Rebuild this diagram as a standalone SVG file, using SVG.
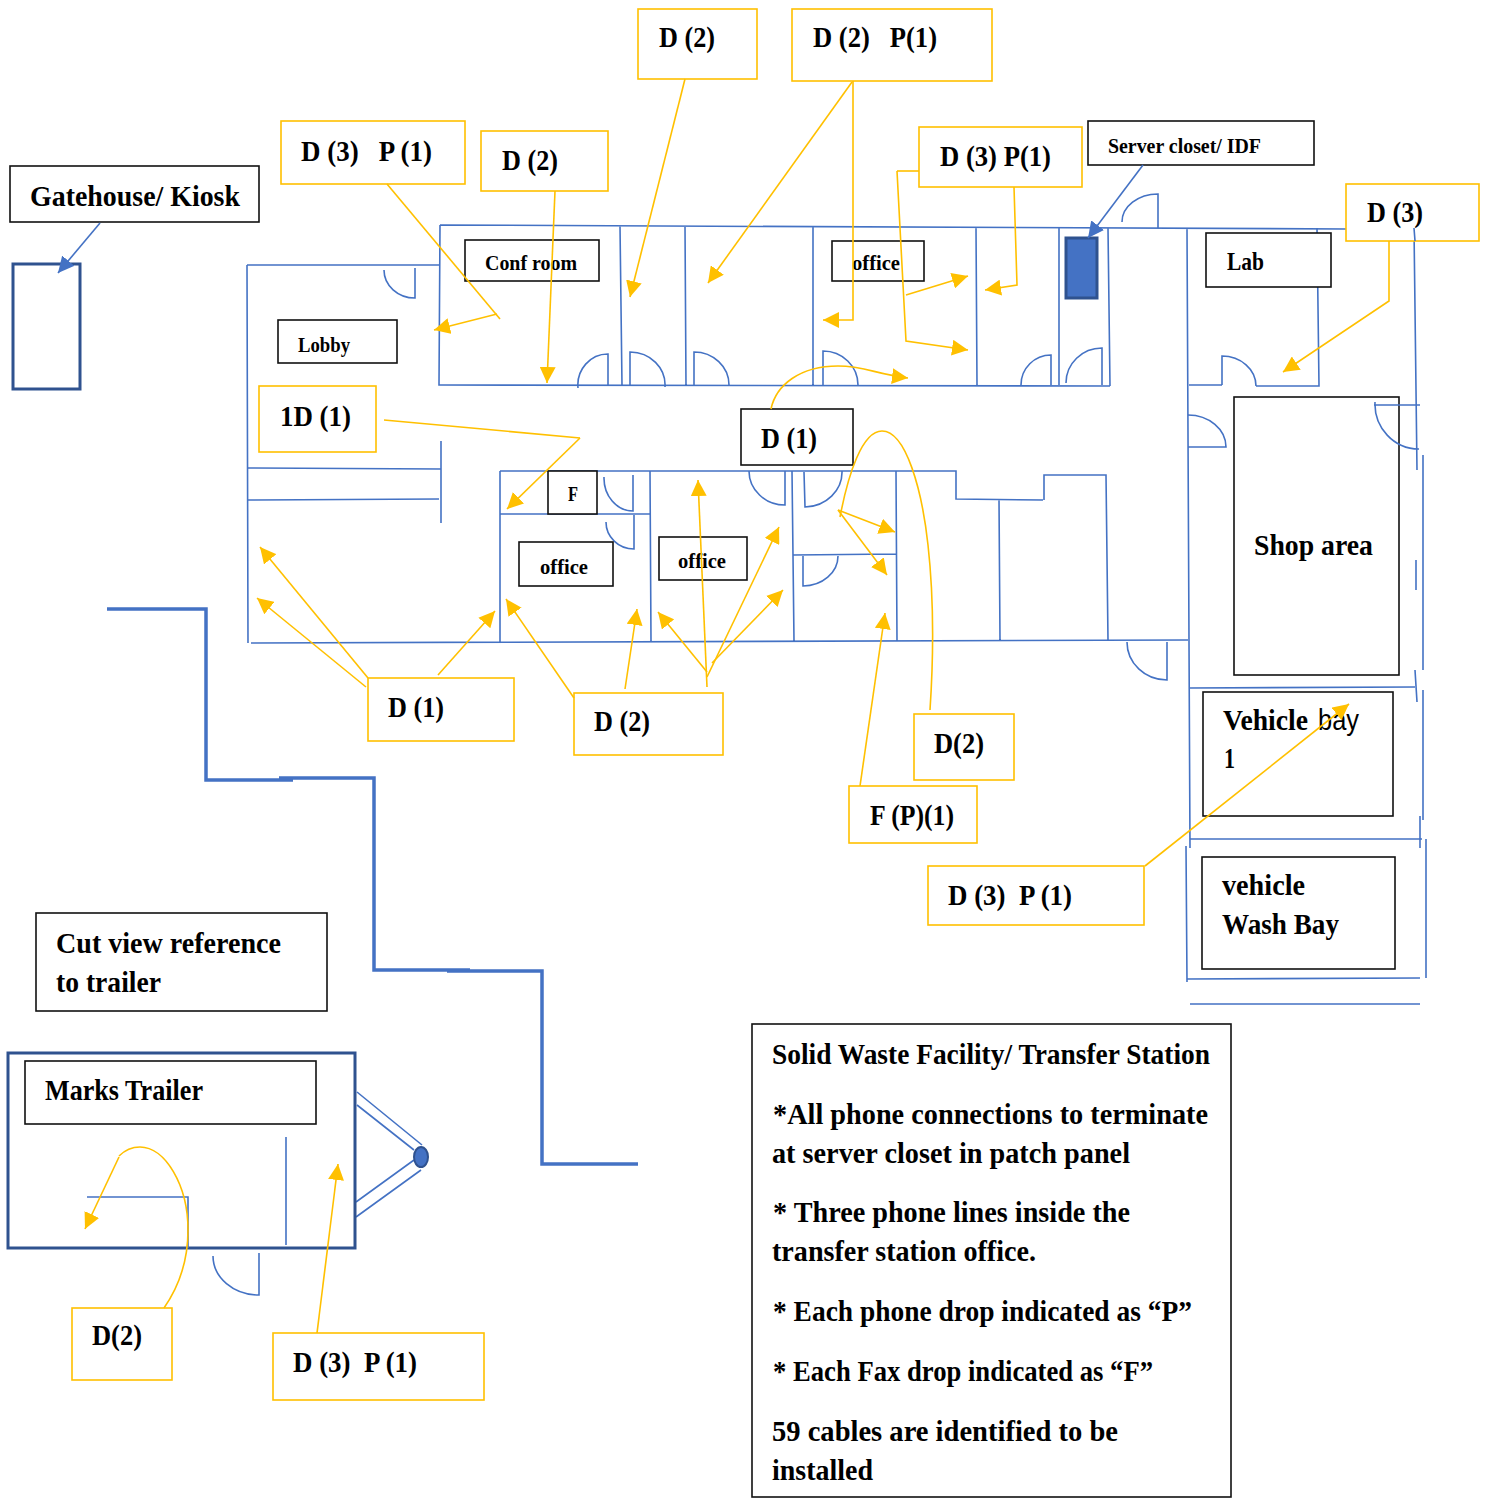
<svg xmlns="http://www.w3.org/2000/svg" width="1486" height="1501" viewBox="0 0 1486 1501">
<style>
text{font-family:"Liberation Serif","Times New Roman",serif;font-weight:700;fill:#000;white-space:pre}
.s30{font-size:30px}.s29{font-size:29px}.s22{font-size:22px}.s26{font-size:26px}
.y{fill:#fff;stroke:#ffc000;stroke-width:1.6}
.k{fill:#fff;stroke:#111;stroke-width:1.6}
.w{fill:none;stroke:#4472c4;stroke-width:1.6}
.c{fill:none;stroke:#ffc000;stroke-width:1.6}
.ca{fill:none;stroke:#ffc000;stroke-width:1.6;marker-end:url(#ya)}
.b{fill:none;stroke:#4472c4;stroke-width:1.6;marker-end:url(#ba)}
.h{fill:none;stroke:#4472c4;stroke-width:3.5}
.solid{fill:#4472c4;stroke:#2f528f;stroke-width:3}
.open{fill:#fff;stroke:#2f528f;stroke-width:3}
</style>
<defs>
<marker id="ya" markerUnits="userSpaceOnUse" markerWidth="18" markerHeight="16" refX="16" refY="8" orient="auto"><path d="M0,0L16,8L0,16Z" fill="#ffc000"/></marker>
<marker id="ba" markerUnits="userSpaceOnUse" markerWidth="18" markerHeight="16" refX="16" refY="8" orient="auto"><path d="M0,0L16,8L0,16Z" fill="#4472c4"/></marker>
</defs>

<g id="walls">
<path class="w" d="M440,225L1346,229M1414,228L1417,470M440,225L439,385L1110,386M247,265H440M247,265L248,643M620,226L622,385M685,226L686,385M813,227V385M976,227L977,385M1059,228V385M1108,228L1110,386M1187,228L1190,848"/>
<path class="w" d="M1317,228L1319,386H1256M1222,385H1189M1222,385V356A34,30 0 0 1 1256,386"/>
<path class="w" d="M415,268V298A31,28 0 0 1 384,270M608,385V354A30,31 0 0 0 578,388M630,385V352A35,33 0 0 1 665,387M694,385V352A35,33 0 0 1 729,385M823,385V351A35,34 0 0 1 858,385M1051,385V355A30,30 0 0 0 1021,385M1102,385V348A36,35 0 0 0 1066,383M1158,228V194A36,28 0 0 0 1122,222"/>
<path class="w" d="M1188,415A38,32 0 0 1 1226,447H1188"/>
<path class="w" d="M247,468L441,469M441,441V523M248,500L439,499M251,643L1188,640M500,471V643M500,471H956V499L1043,500M1044,500V475H1106L1108,640M500,514H650M650,471L651,642M999,499L1000,640M792,471L794,641M896,471L897,641M793,555L896,554"/>
<path class="w" d="M633,475V511A29,33 0 0 1 604,477M634,515V549A28,27 0 0 1 606,522M785,471V505A36,34 0 0 1 749,471M804,472L805,507A38,35 0 0 0 842,471M803,556V586A35,30 0 0 0 838,556M1167,642V680A40,38 0 0 1 1127,642"/>
<path class="w" d="M1423,455V670M1416,560V590M1415,670L1417,702M1423,690V820M1189,688L1415,687M1420,816V848M1190,839H1422M1186,846L1187,982M1426,839V978M1187,979L1420,978M1190,1004H1420"/>
<path class="h" d="M107,609H206V780H293M279,778H374V970H470M447,971H542V1164H638"/>
<path class="w" d="M357,1092L422,1145M357,1105L414,1150M356,1202L414,1160M356,1217L421,1170"/>
</g>

<g id="gatehouse"><rect class="k" x="10" y="166" width="249" height="56"/><text class="s30" x="30" y="206" textLength="210" lengthAdjust="spacingAndGlyphs">Gatehouse/ Kiosk</text></g>
<g id="kiosk"><rect class="open" x="13" y="264" width="67" height="125"/></g>
<g id="lobby"><rect class="k" x="278" y="320" width="119" height="43"/><text class="s22" x="298" y="352" textLength="52" lengthAdjust="spacingAndGlyphs">Lobby</text></g>
<g id="conf-room"><rect class="k" x="465" y="240" width="134" height="41"/><text class="s22" x="485" y="270" textLength="92" lengthAdjust="spacingAndGlyphs">Conf room</text></g>
<g id="office-north"><rect class="k" x="832" y="241" width="92" height="40"/><text class="s22" x="852" y="270" textLength="48" lengthAdjust="spacingAndGlyphs">office</text></g>
<g id="server-closet"><rect class="k" x="1088" y="121" width="226" height="44"/><text class="s22" x="1108" y="153" textLength="153" lengthAdjust="spacingAndGlyphs">Server closet/ IDF</text></g>
<g id="server-rack"><rect class="solid" x="1066" y="238" width="31" height="60"/></g>
<g id="lab"><rect class="k" x="1206" y="233" width="125" height="54"/><text class="s26" x="1227" y="270" textLength="37" lengthAdjust="spacingAndGlyphs">Lab</text></g>
<g id="shop-area"><rect class="k" x="1234" y="397" width="165" height="278"/><text class="s29" x="1254" y="555" textLength="119" lengthAdjust="spacingAndGlyphs">Shop area</text></g>
<g id="vehicle-bay"><rect class="k" x="1203" y="692" width="190" height="124"/><text class="s29" x="1223" y="730" textLength="85" lengthAdjust="spacingAndGlyphs">Vehicle</text><text class="s29" x="1318" y="730" textLength="41" lengthAdjust="spacingAndGlyphs" style="font-weight:400;font-family:'Liberation Sans',sans-serif">bay</text><text class="s29" x="1224" y="768" textLength="11" lengthAdjust="spacingAndGlyphs">1</text></g>
<g id="wash-bay"><rect class="k" x="1202" y="857" width="193" height="112"/><text class="s29" x="1222" y="895" textLength="83" lengthAdjust="spacingAndGlyphs">vehicle</text><text class="s29" x="1222" y="934" textLength="117" lengthAdjust="spacingAndGlyphs">Wash Bay</text></g>
<g id="f-room"><rect class="k" x="548" y="471" width="49" height="43"/><text class="s22" x="568" y="501" textLength="10" lengthAdjust="spacingAndGlyphs">F</text></g>
<g id="office-south-a"><rect class="k" x="519" y="542" width="94" height="44"/><text class="s22" x="540" y="574" textLength="48" lengthAdjust="spacingAndGlyphs">office</text></g>
<g id="office-south-b"><rect class="k" x="659" y="537" width="88" height="43"/><text class="s22" x="678" y="568" textLength="48" lengthAdjust="spacingAndGlyphs">office</text></g>
<g id="d1-black"><rect class="k" x="741" y="409" width="112" height="56"/><text class="s30" x="761" y="448" textLength="56" lengthAdjust="spacingAndGlyphs">D (1)</text></g>

<g id="drop-a"><rect class="y" x="281" y="121" width="184" height="63"/><text class="s30" x="301" y="161" textLength="131" lengthAdjust="spacingAndGlyphs">D (3)   P (1)</text></g>
<g id="drop-b"><rect class="y" x="481" y="131" width="127" height="60"/><text class="s30" x="502" y="170" textLength="56" lengthAdjust="spacingAndGlyphs">D (2)</text></g>
<g id="drop-c"><rect class="y" x="638" y="9" width="119" height="70"/><text class="s30" x="659" y="47" textLength="56" lengthAdjust="spacingAndGlyphs">D (2)</text></g>
<g id="drop-d"><rect class="y" x="792" y="9" width="200" height="72"/><text class="s30" x="813" y="47" textLength="124" lengthAdjust="spacingAndGlyphs">D (2)   P(1)</text></g>
<g id="drop-e"><rect class="y" x="919" y="127" width="163" height="60"/><text class="s30" x="940" y="166" textLength="111" lengthAdjust="spacingAndGlyphs">D (3) P(1)</text></g>
<g id="drop-f"><rect class="y" x="1346" y="184" width="133" height="57"/><text class="s30" x="1367" y="222" textLength="56" lengthAdjust="spacingAndGlyphs">D (3)</text></g>
<g id="drop-g"><rect class="y" x="259" y="386" width="117" height="66"/><text class="s30" x="280" y="426" textLength="71" lengthAdjust="spacingAndGlyphs">1D (1)</text></g>
<g id="drop-h"><rect class="y" x="368" y="678" width="146" height="63"/><text class="s30" x="388" y="717" textLength="56" lengthAdjust="spacingAndGlyphs">D (1)</text></g>
<g id="drop-i"><rect class="y" x="574" y="693" width="149" height="62"/><text class="s30" x="594" y="731" textLength="56" lengthAdjust="spacingAndGlyphs">D (2)</text></g>
<g id="drop-j"><rect class="y" x="914" y="714" width="100" height="66"/><text class="s30" x="934" y="753" textLength="50" lengthAdjust="spacingAndGlyphs">D(2)</text></g>
<g id="drop-k"><rect class="y" x="849" y="786" width="128" height="57"/><text class="s30" x="870" y="825" textLength="84" lengthAdjust="spacingAndGlyphs">F (P)(1)</text></g>
<g id="drop-l"><rect class="y" x="928" y="866" width="216" height="59"/><text class="s30" x="948" y="905" textLength="124" lengthAdjust="spacingAndGlyphs">D (3)  P (1)</text></g>

<g id="cut-view"><rect class="k" x="36" y="913" width="291" height="98"/><text class="s29" x="56" y="953" textLength="225" lengthAdjust="spacingAndGlyphs">Cut view reference</text><text class="s29" x="56" y="992" textLength="105" lengthAdjust="spacingAndGlyphs">to trailer</text></g>
<g id="trailer"><rect x="8" y="1053" width="347" height="195" fill="none" stroke="#2f528f" stroke-width="3"/></g>
<g id="marks-trailer"><rect class="k" x="25" y="1061" width="291" height="63"/><text class="s30" x="45" y="1100" textLength="158" lengthAdjust="spacingAndGlyphs">Marks Trailer</text></g>
<g id="trailer-interior"><path class="w" d="M286,1137V1245M87,1197H188V1248M259,1253V1295A46,39 0 0 1 213,1256"/></g>
<g id="trailer-hitch"><ellipse cx="421" cy="1157" rx="7" ry="10" fill="#4472c4" stroke="#2f528f" stroke-width="2"/></g>
<g id="drop-m"><rect class="y" x="72" y="1308" width="100" height="72"/><text class="s30" x="92" y="1345" textLength="50" lengthAdjust="spacingAndGlyphs">D(2)</text></g>
<g id="drop-n"><rect class="y" x="273" y="1333" width="211" height="67"/><text class="s30" x="293" y="1372" textLength="124" lengthAdjust="spacingAndGlyphs">D (3)  P (1)</text></g>

<g id="legend"><rect class="k" x="752" y="1024" width="479" height="473"/>
<text class="s29" x="772" y="1064" textLength="438" lengthAdjust="spacingAndGlyphs">Solid Waste Facility/ Transfer Station</text>
<text class="s29" x="773" y="1124" textLength="435" lengthAdjust="spacingAndGlyphs">*All phone connections to terminate</text>
<text class="s29" x="772" y="1163" textLength="358" lengthAdjust="spacingAndGlyphs">at server closet in patch panel</text>
<text class="s29" x="773" y="1222" textLength="357" lengthAdjust="spacingAndGlyphs">* Three phone lines inside the</text>
<text class="s29" x="772" y="1261" textLength="264" lengthAdjust="spacingAndGlyphs">transfer station office.</text>
<text class="s29" x="773" y="1321" textLength="419" lengthAdjust="spacingAndGlyphs">* Each phone drop indicated as “P”</text>
<text class="s29" x="773" y="1381" textLength="380" lengthAdjust="spacingAndGlyphs">* Each Fax drop indicated as “F”</text>
<text class="s29" x="772" y="1441" textLength="346" lengthAdjust="spacingAndGlyphs">59 cables are identified to be</text>
<text class="s29" x="772" y="1480" textLength="101" lengthAdjust="spacingAndGlyphs">installed</text>
</g>

<g id="walls-over"><path class="w" d="M1414,228L1415,241M1374,405H1420M1375,402A44,45 0 0 0 1419,449"/></g>

<g id="connectors">
<path class="b" d="M100,223L58,273"/>
<path class="b" d="M1143,165L1088,238"/>
<path class="c" d="M387,184L500,319"/>
<path class="ca" d="M497,314L434,330"/>
<path class="ca" d="M555,191L547,383"/>
<path class="ca" d="M685,79L630,297"/>
<path class="ca" d="M852,82L708,283"/>
<path class="ca" d="M853,81V320H823"/>
<path class="c" d="M919,171H897"/>
<path class="ca" d="M897,171L906,341L968,350"/>
<path class="ca" d="M906,295L968,276"/>
<path class="ca" d="M1014,187L1017,285L985,290"/>
<path class="ca" d="M1389,241V301L1283,372"/>
<path class="ca" d="M771,409C776,385 800,366 838,366C865,366 875,374 908,378"/>
<path class="c" d="M930,710C934,650 933,590 928,545C922,490 906,431 882,431C862,431 848,475 840,517"/>
<path class="ca" d="M838,510L895,532"/>
<path class="ca" d="M838,510L887,575"/>
<path class="c" d="M384,420L580,438"/>
<path class="ca" d="M580,438L507,509"/>
<path class="ca" d="M368,678L260,547"/>
<path class="ca" d="M366,687L257,598"/>
<path class="ca" d="M438,675L495,611"/>
<path class="ca" d="M574,698L506,599"/>
<path class="ca" d="M625,689L637,609"/>
<path class="ca" d="M707,672L658,612"/>
<path class="ca" d="M707,687L698,480"/>
<path class="ca" d="M707,677L779,527"/>
<path class="ca" d="M712,663L783,590"/>
<path class="ca" d="M860,786L885,613"/>
<path class="ca" d="M1145,866L1349,704"/>
<path class="c" d="M164,1308C180,1285 188,1260 188,1230C188,1185 165,1147 140,1147C132,1147 125,1150 119,1156"/>
<path class="ca" d="M119,1157L85,1229"/>
<path class="ca" d="M317,1333L338,1164"/>
</g>
</svg>
